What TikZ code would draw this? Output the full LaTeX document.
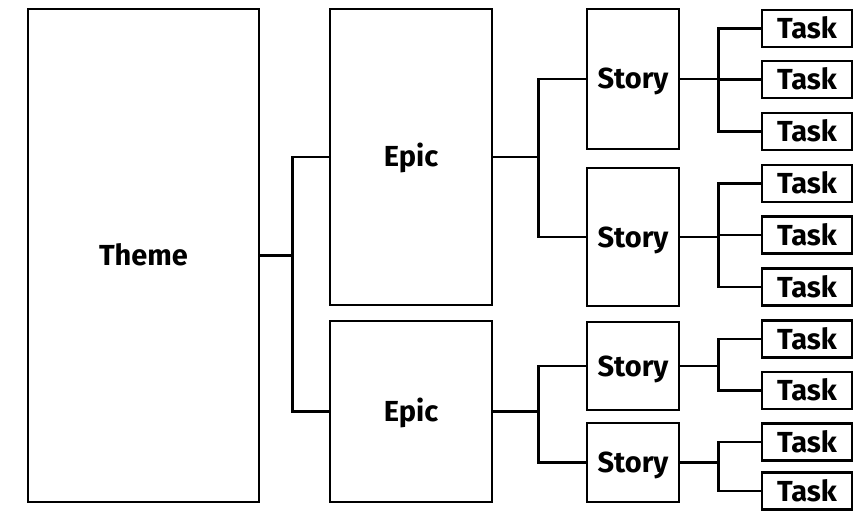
\documentclass[tikz,border=0pt]{standalone}
\usepackage{fontspec}
\setmainfont{Fira Sans}
\begin{document}
\begin{tikzpicture}[x=1pt,y=-1pt,
  box/.style={draw=black,line width=2.8pt,inner sep=0pt,text height=20pt,text depth=0pt,font=\fontsize{29}{32}\selectfont\bfseries,anchor=center},
  link/.style={line width=2.8pt,draw=black}]
\useasboundingbox (0,0) rectangle (862,516);
% theme
\node[box,minimum width=231pt,minimum height=493pt] (theme) at (143.5,255.5) {Theme};
% epics
\node[box,minimum width=162pt,minimum height=296pt] (epicA) at (411,157) {Epic};
\node[box,minimum width=162pt,minimum height=181pt] (epicB) at (411,411.5) {Epic};
% stories
\node[box,minimum width=92pt,minimum height=140pt] (stA) at (633,79) {Story};
\node[box,minimum width=92pt,minimum height=138pt] (stB) at (633,237) {Story};
\node[box,minimum width=92pt,minimum height=88pt] (stC) at (633,366) {Story};
\node[box,minimum width=92pt,minimum height=79pt] (stD) at (633,462.5) {Story};
% tasks
\foreach \n/\y in {1/28.5,2/79.5,3/131.5,4/183.5,5/235,6/287,7/339,8/390.5,9/442,10/491}{
  \node[box,minimum width=90pt,minimum height=37pt] (t\n) at (807,\y) {Task};
}
% connectors
\draw[link] (epicA.west) -- ++(-36,0) |- (theme.east);
\draw[link] (epicB.west) -- ++(-36,0) |- (theme.east);
\draw[link] (stA.west) -- ++(-47,0) |- (epicA.east);
\draw[link] (stB.west) -- ++(-47,0) |- (epicA.east);
\draw[link] (stC.west) -- ++(-47,0) |- (epicB.east);
\draw[link] (stD.west) -- ++(-47,0) |- (epicB.east);
\foreach \t in {1,2,3}{\draw[link] (t\t.west) -- ++(-42,0) |- (stA.east);}
\foreach \t in {4,5,6}{\draw[link] (t\t.west) -- ++(-42,0) |- (stB.east);}
\foreach \t in {7,8}{\draw[link] (t\t.west) -- ++(-42,0) |- (stC.east);}
\foreach \t in {9,10}{\draw[link] (t\t.west) -- ++(-42,0) |- (stD.east);}
\end{tikzpicture}
\end{document}
